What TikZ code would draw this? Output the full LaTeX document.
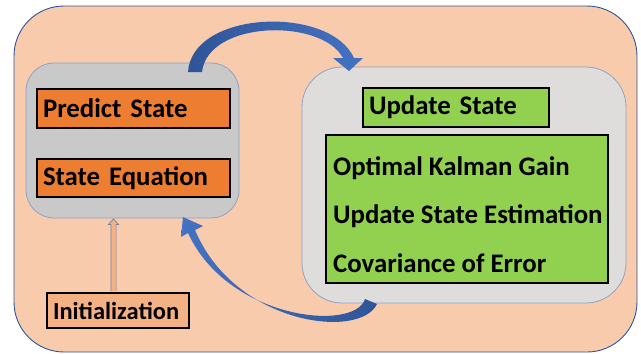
\documentclass[tikz,border=0pt]{standalone}
\usepackage{fontspec}
\setmainfont{Carlito}
\usetikzlibrary{positioning, calc}
\usetikzlibrary{arrows.meta}

\definecolor{peach}{HTML}{F8CBAD}
\definecolor{framblue}{HTML}{2F5597}
\definecolor{panelgray}{HTML}{C9C9C9}
\definecolor{panellight}{HTML}{DEDDDC}
\definecolor{panelline}{HTML}{8FA2C8}
\definecolor{predorange}{HTML}{ED7D31}
\definecolor{updgreen}{HTML}{92D050}
\definecolor{initsalmon}{HTML}{F4B183}
\definecolor{arrowblue}{HTML}{4472C4}
\definecolor{arrowdark}{HTML}{2F5597}

\tikzset{
	panel/.style={draw=panelline, line width=0.8pt, inner sep=0pt},
	lbl/.style={draw=black, line width=1.6pt, inner xsep=6pt, inner ysep=0pt, align=left,
		font=\bfseries\fontsize{26.8}{30}\selectfont},
	txt/.style={anchor=base west, inner sep=0pt, font=\bfseries\fontsize{26.8}{30}\selectfont},
}

\begin{document}
\begin{tikzpicture}[x=1pt, y=-1pt]
	\useasboundingbox[fill=white] (0,0) rectangle (641,354);
	% background
	\draw[fill=peach, draw=framblue, line width=0.9pt, rounded corners=50pt] (14,6) rectangle (637,352);
	% predict side
	\node[panel, fill=panelgray, rounded corners=28pt, minimum width=213pt, minimum height=155pt] (lbox) at (132.5,140.5) {};
	\node[lbl, fill=predorange, text width=181pt, minimum height=39pt] (pred) at (133.5,108.5) {Predict State};
	\node[lbl, fill=predorange, text width=181pt, minimum height=38pt] (steq) at (133.5,178) {State Equation};
	% update side
	\node[panel, fill=panellight, rounded corners=40pt, minimum width=324pt, minimum height=236pt] (rbox) at (464,185) {};
	\node[lbl, fill=updgreen, text width=174pt, minimum height=39pt] (upd) at (456,107.5) {Update State};
	\node[draw=black, line width=1.6pt, fill=updgreen, minimum width=282pt, minimum height=148pt] (gain) at (467,209) {};
	\node[txt] (g1) at (333,175) {Optimal Kalman Gain};
	\node[txt] (g2) at (333,223) {Update State Estimation};
	\node[txt] (g3) at (333,272) {Covariance of Error};
	% initialization
	\node[draw=black, line width=1.6pt, fill=initsalmon, inner xsep=6pt, text width=130pt, minimum height=35pt, align=left,
		font=\bfseries\fontsize{24.5}{28}\selectfont] (init) at (118,310.5) {Initialization};
	\coordinate (ia) at ($(init.north)+(-4.5,0)$);
	\coordinate (ib) at (ia |- lbox.south);
	\draw[draw=panelline!80!black, fill=initsalmon, line width=0.7pt, line join=miter]
		($(ia)+(-2.6,-1)$) -- ($(ib)+(-2.6,6)$) -- ($(ib)+(-5,6)$) -- ($(ib)+(0,0.5)$)
		-- ($(ib)+(5,6)$) -- ($(ib)+(2.6,6)$) -- ($(ia)+(2.6,-1)$);
	% loop arrows
	\shade[left color=arrowdark, right color=arrowblue]
		(188,72) .. controls (192,10) and (330,5) .. (354,58) -- (363,58) -- (349,71) -- (333,58) -- (343,58)
		.. controls (322,18) and (208,20) .. (202,72) -- cycle;
	\shade[left color=arrowblue, right color=arrowdark]
		(365,299) -- (377,304) .. controls (360,340) and (235,325) .. (195,230) -- (203,226) -- (183,217)
		-- (181,237) -- (188,233) .. controls (228,320) and (355,332) .. (365,299) -- cycle;
\end{tikzpicture}
\end{document}
